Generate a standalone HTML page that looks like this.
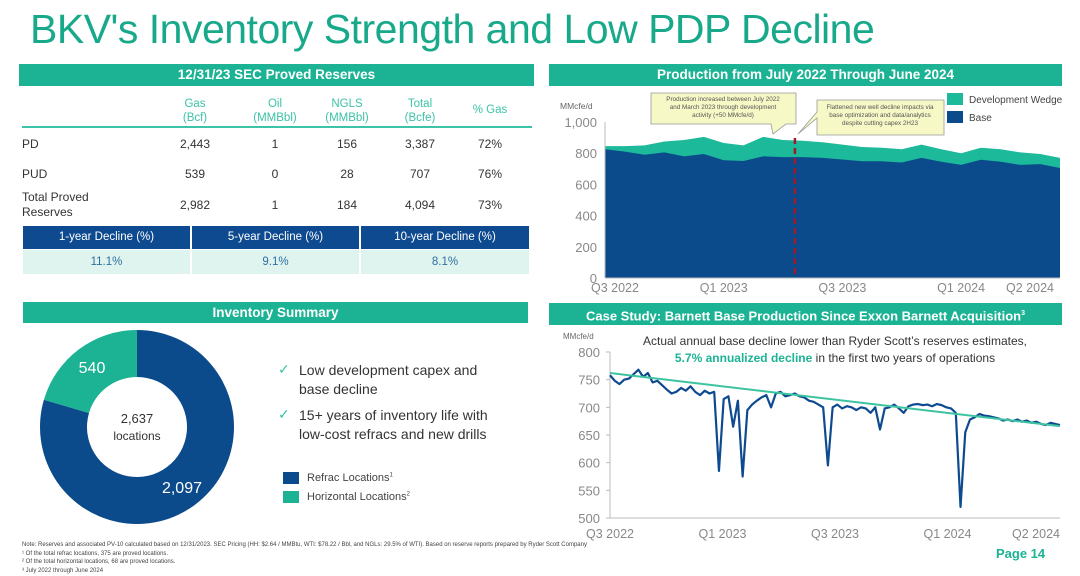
<!DOCTYPE html>
<html><head><meta charset="utf-8"><style>
body{margin:0;width:1080px;height:576px;background:#fff;font-family:"Liberation Sans",sans-serif;position:relative;overflow:hidden}
.abs{position:absolute}
.bar{position:absolute;background:#1cb394;color:#fff;font-weight:bold;font-size:13.5px;text-align:center;line-height:22px}
.th{position:absolute;color:#3cc3a8;font-size:11.5px;text-align:center;line-height:14px}
.td{position:absolute;color:#333;font-size:12px;text-align:center}
</style></head><body>
<div class="abs" style="left:30px;top:6px;font-size:41px;color:#17a98a;letter-spacing:-0.5px">BKV's Inventory Strength and Low PDP Decline</div>

<div class="bar" style="left:19px;top:64px;width:515px;height:22px">12/31/23 SEC Proved Reserves</div>
<div>
<div class="th" style="left:165px;top:97px;width:60px">Gas<br>(Bcf)</div>
<div class="th" style="left:240px;top:97px;width:70px">Oil<br>(MMBbl)</div>
<div class="th" style="left:312px;top:97px;width:70px">NGLS<br>(MMBbl)</div>
<div class="th" style="left:390px;top:97px;width:60px">Total<br>(Bcfe)</div>
<div class="th" style="left:460px;top:103px;width:60px">% Gas</div>
<div class="abs" style="left:22px;top:126px;width:510px;height:2px;background:#3cc3a8"></div>
<div class="td" style="left:22px;top:137px">PD</div>
<div class="td" style="left:22px;top:167px">PUD</div>
<div class="td" style="left:22px;top:190px;text-align:left;line-height:15px">Total Proved<br>Reserves</div>
<div class="td" style="left:165px;top:137px;width:60px">2,443</div><div class="td" style="left:240px;top:137px;width:70px">1</div><div class="td" style="left:312px;top:137px;width:70px">156</div><div class="td" style="left:390px;top:137px;width:60px">3,387</div><div class="td" style="left:460px;top:137px;width:60px">72%</div>
<div class="td" style="left:165px;top:167px;width:60px">539</div><div class="td" style="left:240px;top:167px;width:70px">0</div><div class="td" style="left:312px;top:167px;width:70px">28</div><div class="td" style="left:390px;top:167px;width:60px">707</div><div class="td" style="left:460px;top:167px;width:60px">76%</div>
<div class="td" style="left:165px;top:198px;width:60px">2,982</div><div class="td" style="left:240px;top:198px;width:70px">1</div><div class="td" style="left:312px;top:198px;width:70px">184</div><div class="td" style="left:390px;top:198px;width:60px">4,094</div><div class="td" style="left:460px;top:198px;width:60px">73%</div>
</div>
<div>
<div class="abs" style="left:23px;top:226px;width:167px;height:23px;background:#0e4a8f;color:#fff;font-size:11.5px;text-align:center;line-height:23px">1-year Decline (%)</div>
<div class="abs" style="left:192px;top:226px;width:167px;height:23px;background:#0e4a8f;color:#fff;font-size:11.5px;text-align:center;line-height:23px">5-year Decline (%)</div>
<div class="abs" style="left:361px;top:226px;width:168px;height:23px;background:#0e4a8f;color:#fff;font-size:11.5px;text-align:center;line-height:23px">10-year Decline (%)</div>
<div class="abs" style="left:23px;top:250px;width:167px;height:24px;background:#dff4ef;color:#2f6f9f;font-size:11.5px;text-align:center;line-height:24px">11.1%</div>
<div class="abs" style="left:192px;top:250px;width:167px;height:24px;background:#dff4ef;color:#2f6f9f;font-size:11.5px;text-align:center;line-height:24px">9.1%</div>
<div class="abs" style="left:361px;top:250px;width:168px;height:24px;background:#dff4ef;color:#2f6f9f;font-size:11.5px;text-align:center;line-height:24px">8.1%</div>
</div>

<div class="bar" style="left:23px;top:302px;width:505px;height:21px;line-height:21px">Inventory Summary</div>
<svg class="abs" style="left:0;top:0" width="540" height="576" id="donut"></svg>
<div class="abs" style="left:278px;top:360px;font-size:14px;color:#333;line-height:19px">
<div style="position:absolute;left:0;top:0;color:#3cc3a8">✓</div><div style="position:absolute;left:21px;top:1px;width:185px">Low development capex and base decline</div>
<div style="position:absolute;left:0;top:45px;color:#3cc3a8">✓</div><div style="position:absolute;left:21px;top:46px;width:200px">15+ years of inventory life with low-cost refracs and new drills</div>
</div>
<div class="abs" style="left:283px;top:472px;font-size:11px;color:#444"><span style="display:inline-block;width:16px;height:12px;background:#0b4a8b;vertical-align:middle;margin-right:8px"></span>Refrac Locations<sup style="font-size:6px">1</sup></div>
<div class="abs" style="left:283px;top:491px;font-size:11px;color:#444"><span style="display:inline-block;width:16px;height:12px;background:#1cb394;vertical-align:middle;margin-right:8px"></span>Horizontal Locations<sup style="font-size:6px">2</sup></div>

<div class="bar" style="left:549px;top:64px;width:513px;height:22px">Production from July 2022 Through June 2024</div>
<svg class="abs" style="left:0;top:0" width="1080" height="300" id="prod"></svg>

<div class="bar" style="left:549px;top:303px;width:513px;height:22px;font-size:13px;white-space:nowrap">Case Study: Barnett Base Production Since Exxon Barnett Acquisition<sup style="font-size:7px">3</sup></div>
<svg class="abs" style="left:0;top:0" width="1080" height="545" id="case"></svg>

<div class="abs" style="left:22px;top:541px;font-size:6px;color:#444;line-height:8.5px">Note: Reserves and associated PV-10 calculated based on 12/31/2023. SEC Pricing (HH: $2.64 / MMBtu, WTI: $78.22 / Bbl, and NGLs: 29.5% of WTI). Based on reserve reports prepared by Ryder Scott Company<br>¹ Of the total refrac locations, 375 are proved locations.<br>² Of the total horizontal locations, 68 are proved locations.<br>³ July 2022 through June 2024</div>
<div class="abs" style="left:996px;top:546px;font-size:13px;font-weight:bold;color:#1cb394">Page 14</div>

<script>
const NS="http://www.w3.org/2000/svg";
function mk(p,t,a){const e=document.createElementNS(NS,t);for(const k in a)e.setAttribute(k,a[k]);p.appendChild(e);return e;}
// donut
const donutLabels=["Refrac","Horizontal"];
const donutValues=[2097,540];
(function(){const s=document.getElementById('donut');const cx=137,cy=427,R=97,r=50;const tot=donutValues[0]+donutValues[1];
let a0=0;const cols=["#0b4a8b","#1cb394"];
donutValues.forEach((v,i)=>{const a1=a0+v/tot*2*Math.PI;const pt=(a,rr)=>[cx+rr*Math.sin(a),cy-rr*Math.cos(a)];const lg=(a1-a0)>Math.PI?1:0;
const p1=pt(a0,R),p2=pt(a1,R),p3=pt(a1,r),p4=pt(a0,r);
const e=mk(s,'path',{d:`M${p1}A${R},${R} 0 ${lg} 1 ${p2}L${p3}A${r},${r} 0 ${lg} 0 ${p4}Z`,fill:cols[i]});


const am=(a0+a1)/2;const lp=pt(am,R-22);const t=mk(s,'text',{x:lp[0],y:lp[1]+6,'text-anchor':'middle','font-size':16,fill:'#fff','font-family':'Liberation Sans'});t.textContent=v.toLocaleString('en-US');
a0=a1;});
const t1=mk(s,'text',{x:cx,y:cy-4,'text-anchor':'middle','font-size':13,fill:'#333'});t1.textContent=tot.toLocaleString('en-US');
const t2=mk(s,'text',{x:cx,y:cy+13,'text-anchor':'middle','font-size':12,fill:'#333'});t2.textContent='locations';
})();

// production chart
const prodTotal=[845,845,850,875,885,905,865,850,905,885,880,870,855,840,835,825,855,825,800,835,825,805,795,770];
const prodBase=[825,810,790,805,780,795,755,750,780,775,775,770,760,748,748,740,770,745,725,758,745,725,730,705];
const prodYTicks=[0,200,400,600,800,1000];
const prodXLabels=["Q3 2022","Q1 2023","Q3 2023","Q1 2024","Q2 2024"];
const prodXLabelIdx=[0,6,12,18,21.5];
const prodMarkerIdx=9.6;
(function(){const s=document.getElementById('prod');const x0=605,x1=1060,yb=278,yt=122;
const X=i=>x0+i/(prodTotal.length-1)*(x1-x0);const Y=v=>yb-v/1000*(yb-yt);
const area=(arr)=>'M'+X(0)+','+yb+arr.map((v,i)=>'L'+X(i)+','+Y(v)).join('')+'L'+X(arr.length-1)+','+yb+'Z';
const w=mk(s,'path',{d:area(prodTotal),fill:'#1cb99a'});
const b=mk(s,'path',{d:area(prodBase),fill:'#0b4a8b'});
mk(s,'line',{x1:x0,x2:x0,y1:yt,y2:yb,stroke:'#bbb'});mk(s,'line',{x1:x0,x2:x1,y1:yb,y2:yb,stroke:'#bbb'});
prodYTicks.forEach(v=>{const t=mk(s,'text',{x:x0-8,y:Y(v)+5,'text-anchor':'end','font-size':13,fill:'#888'});t.textContent=v.toLocaleString('en-US');
});
prodXLabels.forEach((l,i)=>{const t=mk(s,'text',{x:Math.min(X(prodXLabelIdx[i]),1030),y:292,'text-anchor':i==0?'start':'middle','font-size':12.5,fill:'#888'});if(i==0)t.setAttribute('x',x0-14);t.textContent=l;
});
const ut=mk(s,'text',{x:560,y:109,'font-size':8.5,fill:'#666'});ut.textContent='MMcfe/d';
const d=mk(s,'line',{x1:X(prodMarkerIdx),x2:X(prodMarkerIdx),y1:138,y2:yb,stroke:'#9b1c2c','stroke-width':2.5,'stroke-dasharray':'6,4'});

// callouts
mk(s,'path',{d:'M651,93H796V124H786L773,134L771,124H651Z',fill:'#f6f8c6',stroke:'#999','stroke-width':0.8});
mk(s,'path',{d:'M817,100H944V135H817V118L798,134L817,112Z',fill:'#f6f8c6',stroke:'#999','stroke-width':0.8});
[["Production increased between July 2022",723,101],["and March 2023 through development",723,109],["activity (+50 MMcfe/d)",723,117],["Flattened new well decline impacts via",880,109],["base optimization and data/analytics",880,117],["despite cutting capex 2H23",880,125]].forEach(a=>{const t=mk(s,'text',{x:a[1],y:a[2],'text-anchor':'middle','font-size':6.3,fill:'#555'});t.textContent=a[0];});
mk(s,'rect',{x:947,y:93,width:16,height:12,fill:'#1cb99a'});mk(s,'rect',{x:947,y:111,width:16,height:12,fill:'#0b4a8b'});
const l1=mk(s,'text',{x:969,y:103,'font-size':10,fill:'#444'});l1.textContent='Development Wedge';
const l2=mk(s,'text',{x:969,y:121,'font-size':10,fill:'#444'});l2.textContent='Base';
})();

// case study
const caseValues=[758,748,742,750,752,760,768,755,762,745,748,740,732,725,728,735,730,738,728,722,730,725,728,585,715,720,665,712,575,695,705,712,718,722,700,725,728,720,722,725,720,718,712,710,705,700,595,700,705,698,702,700,695,700,698,690,700,660,698,700,705,698,690,702,705,706,704,705,702,706,704,700,698,690,520,655,678,682,688,685,684,682,680,676,678,675,678,674,676,672,674,670,668,672,670,668];
const trendStartEnd=[762,666];
const caseYTicks=[500,550,600,650,700,750,800];
const caseXLabels=["Q3 2022","Q1 2023","Q3 2023","Q1 2024","Q2 2024"];
const caseXLabelPos=[0,0.25,0.5,0.75,0.93];
(function(){const s=document.getElementById('case');const x0=610,x1=1060,yb=518,yt=352;
const Xf=f=>x0+f*(x1-x0);const X=i=>Xf(i/(caseValues.length-1));const Y=v=>yb-(v-500)/300*(yb-yt);
mk(s,'line',{x1:x0,x2:x0,y1:yt,y2:yb,stroke:'#bbb'});mk(s,'line',{x1:x0,x2:x1,y1:yb,y2:yb,stroke:'#bbb'});
caseYTicks.forEach(v=>{mk(s,'line',{x1:x0-4,x2:x0,y1:Y(v),y2:Y(v),stroke:'#bbb'});const t=mk(s,'text',{x:x0-10,y:Y(v)+5,'text-anchor':'end','font-size':13,fill:'#888'});t.textContent=v;
});
caseXLabels.forEach((l,i)=>{const t=mk(s,'text',{x:Xf(caseXLabelPos[i]),y:538,'text-anchor':'middle','font-size':12.5,fill:'#888'});if(i==4){t.setAttribute('x',x1);t.setAttribute('text-anchor','end');}t.textContent=l;
});
const ut=mk(s,'text',{x:563,y:339,'font-size':8,fill:'#666'});ut.textContent='MMcfe/d';
const ln=mk(s,'polyline',{points:caseValues.map((v,i)=>X(i)+','+Y(v)).join(' '),fill:'none',stroke:'#0e4a8f','stroke-width':2.2,'stroke-linejoin':'round'});

const tr=mk(s,'line',{x1:x0,y1:Y(trendStartEnd[0]),x2:x1,y2:Y(trendStartEnd[1]),stroke:'#3cc3a0','stroke-width':2});

const a=mk(s,'text',{x:835,y:345,'text-anchor':'middle','font-size':12,fill:'#333'});a.textContent="Actual annual base decline lower than Ryder Scott’s reserves estimates,";
const b=mk(s,'text',{x:835,y:362,'text-anchor':'middle','font-size':12,fill:'#333'});
const bs=mk(b,'tspan',{'font-weight':'bold',fill:'#1cb394'});bs.textContent='5.7% annualized decline';
const bt=mk(b,'tspan',{});bt.textContent=' in the first two years of operations';
})();
</script>
</body></html>
